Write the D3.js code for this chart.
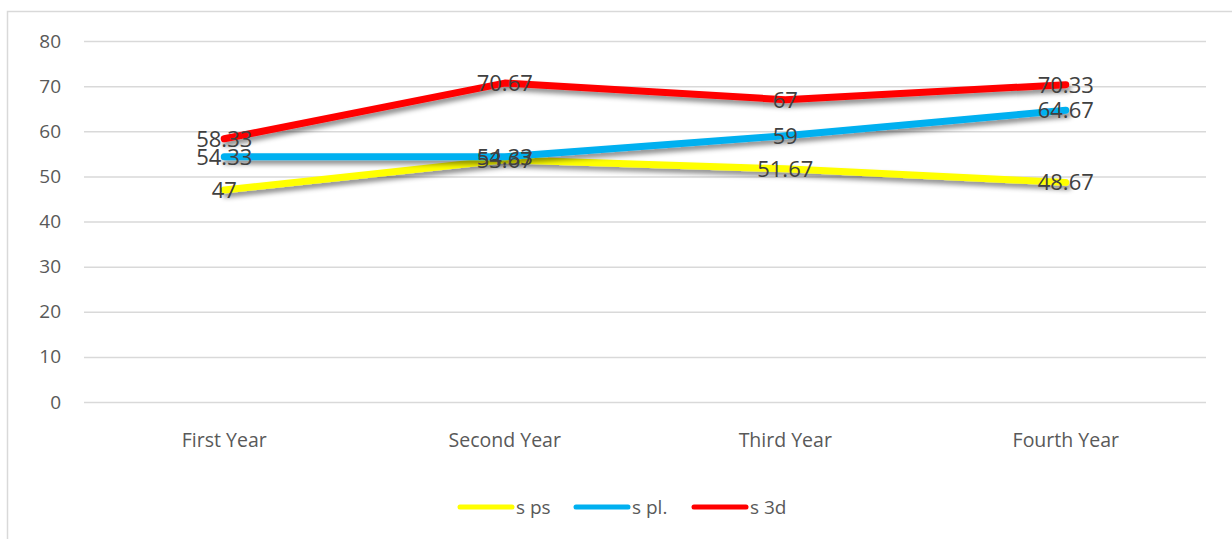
<!DOCTYPE html>
<html>
<head>
<meta charset="utf-8">
<script src="https://cdn.jsdelivr.net/npm/d3@7"></script>
<style>
  body { margin: 0; background: #fff; }
  svg { display: block; font-family: "Open Sans", "Noto Sans", sans-serif; }
</style>
</head>
<body>
<svg id="chart"></svg>
<script>
// chart data
var years = ["First Year", "Second Year", "Third Year", "Fourth Year"];
var sPs = [47, 53.67, 51.67, 48.67];
var sPl = [54.33, 54.33, 59, 64.67];
var s3d = [58.33, 70.67, 67, 70.33];
var seriesNames = ["s ps", "s pl.", "s 3d"];
var yTicks = [0, 10, 20, 30, 40, 50, 60, 70, 80];

var series = [
    { name: seriesNames[0], values: sPs, color: "#ffff00" },
    { name: seriesNames[1], values: sPl, color: "#00b0f0" },
    { name: seriesNames[2], values: s3d, color: "#ff0000" }
];

var width = 1232, height = 539;
var svg = d3.select("#chart")
    .attr("width", width)
    .attr("height", height);

// drop shadow like the office chart
var defs = svg.append("defs");
defs.append("filter")
    .attr("id", "shadow")
    .attr("x", "-10%").attr("y", "-50%")
    .attr("width", "120%").attr("height", "200%")
    .append("feDropShadow")
    .attr("dx", 2)
    .attr("dy", 4)
    .attr("stdDeviation", 2.5)
    .attr("flood-color", "#000")
    .attr("flood-opacity", 0.45);

// outer frame
svg.append("path")
    .attr("d", "M7.5,539 L7.5,11.5 L1232,11.5")
    .attr("fill", "none")
    .attr("stroke", "#d9d9d9")
    .attr("stroke-width", 1.5);

var xScale = d3.scaleBand()
    .domain(years)
    .range([84, 1206]);

var yScale = d3.scaleLinear()
    .domain([0, 80])
    .range([402, 41]);

// grid
svg.append("g")
    .selectAll("line")
    .data(yTicks)
    .enter()
    .append("line")
    .attr("x1", 84)
    .attr("x2", 1206)
    .attr("y1", function(d) { return yScale(d) + 0.5; })
    .attr("y2", function(d) { return yScale(d) + 0.5; })
    .attr("stroke", "#d9d9d9")
    .attr("stroke-width", 1.5);

// y axis labels
var yAxis = d3.axisLeft(yScale)
    .tickValues(yTicks)
    .tickSize(0)
    .tickPadding(0);
var gy = svg.append("g")
    .attr("transform", "translate(61,0)")
    .call(yAxis);
gy.select(".domain").remove();
gy.selectAll("text")
    .attr("font-size", 19)
    .attr("fill", "#595959")
    .attr("font-family", "Open Sans, sans-serif");

// x axis labels
var xAxis = d3.axisBottom(xScale).tickSize(0).tickPadding(0);
var gx = svg.append("g")
    .attr("transform", "translate(0,433)")
    .call(xAxis);
gx.select(".domain").remove();
gx.selectAll("text")
    .attr("font-size", 19.5)
    .attr("fill", "#595959")
    .attr("font-family", "Open Sans, sans-serif");

var line = d3.line()
    .x(function(d, i) { return xScale(years[i]) + xScale.bandwidth() / 2; })
    .y(function(d) { return yScale(d); });

svg.append("g")
    .selectAll("path")
    .data(series)
    .enter()
    .append("path")
    .attr("d", function(d) { return line(d.values); })
    .attr("fill", "none")
    .attr("stroke", function(d) { return d.color; })
    .attr("stroke-width", 7)
    .attr("stroke-linecap", "round")
    .attr("stroke-linejoin", "round")
    .attr("filter", "url(#shadow)");

// data labels (centered on points)
series.forEach(function(s) {
    svg.append("g")
        .selectAll("text")
        .data(s.values)
        .enter()
        .append("text")
        .attr("x", function(d, i) { return xScale(years[i]) + xScale.bandwidth() / 2; })
        .attr("y", function(d) { return yScale(d); })
        .attr("dy", "0.36em")
        .attr("text-anchor", "middle")
        .attr("font-size", 22)
        .attr("fill", "#404040")
        .text(function(d) { return d; });
});

// legend
var legendX = [460, 576, 694];
var legend = svg.append("g");
series.forEach(function(s, i) {
    legend.append("line")
        .attr("x1", legendX[i])
        .attr("x2", legendX[i] + 52)
        .attr("y1", 507)
        .attr("y2", 507)
        .attr("stroke", s.color)
        .attr("stroke-width", 5)
        .attr("stroke-linecap", "round");
    legend.append("text")
        .attr("x", legendX[i] + 56)
        .attr("y", 507)
        .attr("dy", "0.35em")
        .attr("font-size", 19)
        .attr("fill", "#595959")
        .text(s.name);
});
</script>
</body>
</html>
